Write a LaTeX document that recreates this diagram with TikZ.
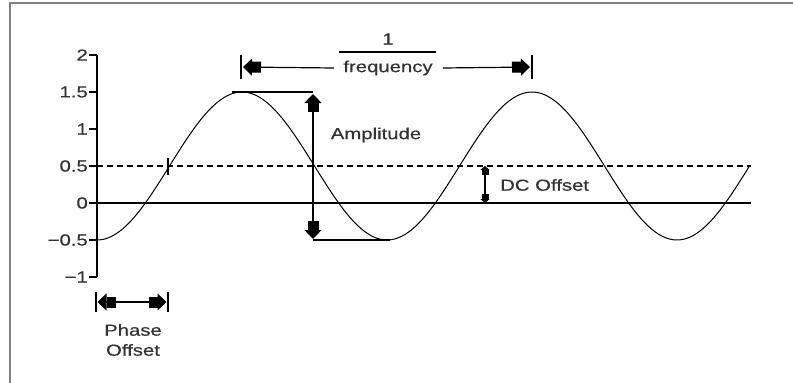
\documentclass[tikz,border=0pt]{standalone}
\usepackage{fontspec}
\setmainfont{Liberation Sans}[FakeStretch=1.27,FakeBold=0.5]
\usetikzlibrary{arrows.meta}
\begin{document}
\begin{tikzpicture}[x=1pt,y=-1pt,
  lbl/.style={font=\fontsize{16}{20}\selectfont, text=black!80, inner sep=0pt},
  frame/.style={draw=black!50, line width=1.6pt},
  axisline/.style={line width=1.3pt, black},
  dimline/.style={line width=1.2pt, black},
  curve/.style={line width=1pt, black},
  bigR/.style={line width=1.2pt, -{Rectangle[length=9pt,width=11pt,sep=0pt]Triangle[length=9pt,width=17pt,sep=0pt]}},
  bigB/.style={line width=1.2pt, {Triangle[length=9pt,width=17pt,sep=0pt]Rectangle[length=9pt,width=11pt,sep=0pt]}-{Rectangle[length=9pt,width=11pt,sep=0pt]Triangle[length=9pt,width=17pt,sep=0pt]}},
  smallB/.style={line width=1.2pt, {Triangle[length=4pt,width=9pt,sep=0pt]Rectangle[length=5pt,width=7pt,sep=0pt]}-{Rectangle[length=5pt,width=7pt,sep=0pt]Triangle[length=4pt,width=9pt,sep=0pt]}}
]
\useasboundingbox (0,0) rectangle (793,383);
% frame
\draw[frame] (10,383) -- (10,3) -- (793,3);

% axes
\coordinate (ytop) at (97,55);
\coordinate (ybot) at (97,277);
\coordinate (x0) at (97,203);
\coordinate (x1) at (751,203);
\coordinate (d0) at (97,166);
\coordinate (d1) at (751,166);
\draw[axisline] (ytop) -- (ybot);
\draw[axisline] (x0) -- (x1);
\draw[dimline, dash pattern=on 6pt off 4pt] (d0) -- (d1);

% ticks and labels
\foreach \v/\t/\n in {2/2/a, 1.5/1.5/b, 1/1/c, 0.5/0.5/d, 0/0/e, -0.5/{−0.5}/f, -1/{−1}/g}{
  \draw[axisline] (89,{203-74*\v}) -- (97,{203-74*\v});
  \node[lbl, anchor=east] (tick\n) at (88,{203-74*\v}) {\t};
}

% sine curve
\draw[curve] plot[domain=97:750, samples=240] (\x, {203-74*(0.5-cos((\x-97)*1.241379))});

% cross mark at phase point
\coordinate (ph) at (168,166);
\draw[dimline] ([yshift=8pt]ph) -- ([yshift=-9pt]ph);

% frequency dimension
\node[lbl] (one) at (388,39) {1};
\draw[dimline] (339,52) -- (436,52);
\node[lbl] (fq) at (388,68) {frequency};
\coordinate (fl) at (241,67);
\coordinate (fr) at (532,67);
\draw[dimline] ([yshift=12pt]fl) -- ([yshift=-12pt]fl);
\draw[dimline] ([yshift=12pt]fr) -- ([yshift=-12pt]fr);
\draw[bigR, shorten >=2pt] ([xshift=-9pt]fq.west) -- (fl);
\draw[bigR, shorten >=2pt] ([xshift=10pt]fq.east) -- (fr);

% amplitude
\coordinate (at) at (313,92);
\coordinate (ab) at (313,240);
\draw[dimline] (232,92) -- (at);
\draw[dimline] (ab) -- (390,240);
\draw[bigB, shorten <=2pt, shorten >=1pt] (at) -- (ab);
\node[lbl] (amp) at (376,135) {Amplitude};

% DC offset
\coordinate (dct) at (485,166);
\coordinate (dcb) at (485,203);
\draw[smallB] (dct) -- (dcb);
\node[lbl, anchor=west] (dc) at (500,185) {DC Offset};

% phase offset
\coordinate (pl) at (96,302);
\coordinate (pr) at (168,302);
\draw[dimline] ([yshift=10pt]pl) -- ([yshift=-10pt]pl);
\draw[dimline] ([yshift=10pt]pr) -- ([yshift=-10pt]pr);
\draw[bigB, shorten <=1.5pt, shorten >=1.5pt] (pl) -- (pr);
\node[lbl, align=center] (po) at (133,340) {Phase\\Offset};
\end{tikzpicture}
\end{document}
